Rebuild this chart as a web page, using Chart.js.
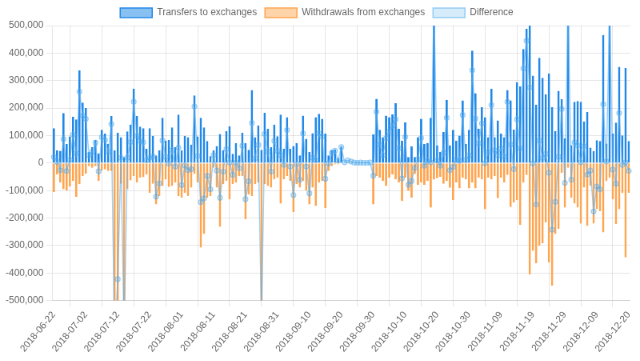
<!DOCTYPE html>
<html>
<head>
<meta charset="utf-8">
<script src="https://cdn.jsdelivr.net/npm/chart.js@4/dist/chart.umd.min.js"></script>
<style>
  html, body { margin: 0; padding: 0; background: #fff; overflow: hidden; }
  #wrap { position: absolute; left: 0; top: 0; width: 800px; height: 451px; transform: scale(0.8); transform-origin: 0 0; }
</style>
</head>
<body>
<div id="wrap"><canvas id="c"></canvas></div>
<script>
const dates = [
  '2018-06-22','2018-06-23','2018-06-24','2018-06-25','2018-06-26','2018-06-27','2018-06-28','2018-06-29','2018-06-30',
  '2018-07-01','2018-07-02','2018-07-03','2018-07-04','2018-07-05','2018-07-06','2018-07-07','2018-07-08','2018-07-09','2018-07-10',
  '2018-07-11','2018-07-12','2018-07-13','2018-07-14','2018-07-15','2018-07-16','2018-07-17','2018-07-18','2018-07-19','2018-07-20',
  '2018-07-21','2018-07-22','2018-07-23','2018-07-24','2018-07-25','2018-07-26','2018-07-27','2018-07-28','2018-07-29','2018-07-30','2018-07-31',
  '2018-08-01','2018-08-02','2018-08-03','2018-08-04','2018-08-05','2018-08-06','2018-08-07','2018-08-08','2018-08-09','2018-08-10',
  '2018-08-11','2018-08-12','2018-08-13','2018-08-14','2018-08-15','2018-08-16','2018-08-17','2018-08-18','2018-08-19','2018-08-20',
  '2018-08-21','2018-08-22','2018-08-23','2018-08-24','2018-08-25','2018-08-26','2018-08-27','2018-08-28','2018-08-29','2018-08-30','2018-08-31',
  '2018-09-01','2018-09-02','2018-09-03','2018-09-04','2018-09-05','2018-09-06','2018-09-07','2018-09-08','2018-09-09','2018-09-10',
  '2018-09-11','2018-09-12','2018-09-13','2018-09-14','2018-09-15','2018-09-16','2018-09-17','2018-09-18','2018-09-19','2018-09-20',
  '2018-09-21','2018-09-22','2018-09-23','2018-09-24','2018-09-25','2018-09-26','2018-09-27','2018-09-28','2018-09-29','2018-09-30',
  '2018-10-01','2018-10-02','2018-10-03','2018-10-04','2018-10-05','2018-10-06','2018-10-07','2018-10-08','2018-10-09','2018-10-10',
  '2018-10-11','2018-10-12','2018-10-13','2018-10-14','2018-10-15','2018-10-16','2018-10-17','2018-10-18','2018-10-19','2018-10-20',
  '2018-10-21','2018-10-22','2018-10-23','2018-10-24','2018-10-25','2018-10-26','2018-10-27','2018-10-28','2018-10-29','2018-10-30','2018-10-31',
  '2018-11-01','2018-11-02','2018-11-03','2018-11-04','2018-11-05','2018-11-06','2018-11-07','2018-11-08','2018-11-09','2018-11-10',
  '2018-11-11','2018-11-12','2018-11-13','2018-11-14','2018-11-15','2018-11-16','2018-11-17','2018-11-18','2018-11-19','2018-11-20',
  '2018-11-21','2018-11-22','2018-11-23','2018-11-24','2018-11-25','2018-11-26','2018-11-27','2018-11-28','2018-11-29','2018-11-30',
  '2018-12-01','2018-12-02','2018-12-03','2018-12-04','2018-12-05','2018-12-06','2018-12-07','2018-12-08','2018-12-09','2018-12-10',
  '2018-12-11','2018-12-12','2018-12-13','2018-12-14','2018-12-16','2018-12-17','2018-12-18','2018-12-19','2018-12-20'
];

const transfersToExchanges = [
  127000, 46000, 45000, 182000, 70000, 97000, 168000, 159000, 337000, 220000,
  200000, 40000, 58000, 85000, 35000, 121000, 107000, 70000, 171000, 46000,
  110000, 94000, 22000, 115000, 140000, 270000, 171000, 133000, 127000, 52000,
  127000, 99000, 28000, 46000, 165000, 82000, 85000, 130000, 58000, 176000,
  46000, 99000, 94000, 67000, 246000, 97000, 165000, 130000, 80000, 25000,
  46000, 62000, 106000, 46000, 116000, 134000, 34000, 73000, 28000, 110000,
  73000, 48000, 266000, 94000, 137000, 48000, 183000, 125000, 58000, 140000,
  98000, 176000, 52000, 167000, 52000, 62000, 73000, 28000, 173000, 88000,
  40000, 109000, 167000, 179000, 161000, 107000, 28000, 48000, 50000, 15000,
  60000, null, null, null, null, null, null, null, null, null,
  104000, 234000, 121000, 94000, 173000, 167000, 177000, 218000, 125000, 82000,
  148000, 22000, 61000, 22000, 94000, 161000, 70000, 73000, 165000, 620000,
  64000, 40000, 113000, 230000, 64000, 121000, 82000, 100000, 228000, 70000,
  121000, 409000, 254000, 125000, 203000, 167000, 94000, 270000, 94000, 155000,
  107000, 94000, 266000, 228000, 122000, 294000, 279000, 415000, 488000, 680000,
  318000, 213000, 383000, 310000, 250000, 326000, 204000, 117000, 263000, 232000,
  90000, 600000, 66000, 223000, 226000, 223000, 151000, 186000, 56000, 44000,
  83000, 80000, 466000, 71000, 600000, 108000, 147000, 350000, 101000, 346000, 80000
];

const withdrawalsFromExchanges = [
  -105000, -41000, -71000, -95000, -99000, -85000, -65000, -123000, -77000, -47000,
  -39000, -11000, -17000, -11000, -65000, -27000, -23000, -29000, -29000, -700000,
  -532000, -75000, -650000, -95000, -63000, -47000, -71000, -53000, -51000, -41000,
  -108000, -75000, -150000, -120000, -83000, -59000, -87000, -83000, -71000, -120000,
  -126000, -108000, -120000, -89000, -40000, -71000, -307000, -258000, -126000, -120000,
  -17000, -89000, -232000, -77000, -65000, -132000, -77000, -71000, -47000, -47000,
  -204000, -114000, -120000, -77000, -71000, -620000, -77000, -83000, -89000, -59000,
  -53000, -147000, -59000, -47000, -65000, -178000, -77000, -89000, -65000, -101000,
  -150000, -89000, -156000, -71000, -65000, -164000, -29000, -11000, -5000, -5000,
  -2000, null, null, null, null, null, null, null, null, null,
  -150000, -47000, -53000, -65000, -83000, -53000, -41000, -59000, -71000, -138000,
  -53000, -101000, -126000, -40000, -80000, -70000, -80000, -65000, -162000, -60000,
  -55000, -50000, -75000, -65000, -90000, -135000, -70000, -92000, -53000, -59000,
  -92000, -71000, -92000, -53000, -59000, -168000, -53000, -59000, -47000, -128000,
  -53000, -71000, -43000, -160000, -144000, -135000, -225000, -71000, -43000, -405000,
  -319000, -364000, -301000, -292000, -216000, -361000, -446000, -258000, -240000, -35000,
  -162000, -17000, -126000, -147000, -162000, -220000, -89000, -228000, -83000, -220000,
  -168000, -175000, -252000, -65000, -53000, -132000, -222000, -168000, -108000, -343000, -108000
];

const difference = [
  22000, 5000, -26000, 87000, -29000, 12000, 103000, 36000, 260000, 173000,
  161000, 29000, 41000, 74000, -30000, 94000, 84000, 41000, 142000, -654000,
  -422000, 19000, -628000, 20000, 77000, 223000, 100000, 80000, 76000, 11000,
  19000, 24000, -122000, -74000, 82000, 23000, -2000, 47000, -13000, 56000,
  -80000, -9000, -26000, -22000, 206000, 26000, -142000, -128000, -46000, -95000,
  29000, -27000, -126000, -31000, 51000, 2000, -43000, 2000, -19000, 63000,
  -131000, -66000, 146000, 17000, 66000, -572000, 106000, 42000, -31000, 81000,
  45000, 29000, -7000, 120000, -13000, -116000, -4000, -61000, 108000, -13000,
  -110000, 20000, 11000, 108000, 96000, -57000, -1000, 37000, 45000, 10000,
  58000, 3000, 10000, 6000, 2000, 1000, 2000, 1000, 1000, 2000,
  -46000, 187000, 68000, 29000, 90000, 114000, 136000, 159000, 54000, -56000,
  95000, -79000, -65000, -18000, 14000, 91000, -10000, 8000, 3000, 560000,
  9000, -10000, 38000, 165000, -26000, -14000, 12000, 8000, 175000, 11000,
  29000, 338000, 162000, 72000, 144000, -1000, 41000, 211000, 47000, 27000,
  54000, 23000, 223000, 68000, -22000, 159000, 54000, 344000, 445000, 275000,
  -1000, -151000, 82000, 18000, 34000, -35000, -242000, -141000, 23000, 197000,
  -72000, 583000, -60000, 76000, 64000, 3000, 62000, -42000, -27000, -176000,
  -85000, -95000, 214000, 6000, 547000, -24000, -75000, 182000, -7000, 3000, -28000
];

const yTicks = { min: -500000, max: 500000, step: 100000 };
const labelEvery = 10;

Chart.defaults.font.family = "'Liberation Sans', Arial, Helvetica, sans-serif";
Chart.defaults.font.size = 12;
Chart.defaults.color = '#666';

// The legend row is centred with a trailing gap, as in the reference
const legendShift = {
  id: 'legendShift',
  afterLayout(chart) {
    const lg = chart.legend;
    if (lg) { lg.left -= 6; lg.right -= 6; }
  }
};

new Chart(document.getElementById('c'), {
  type: 'bar',
  plugins: [legendShift],
  data: {
    labels: dates,
    datasets: [
      {
        label: 'Transfers to exchanges',
        data: transfersToExchanges,
        backgroundColor: 'rgba(40,140,232,0.55)',
        borderColor: 'rgb(34,136,232)',
        borderWidth: 1.5,
        order: 1
      },
      {
        label: 'Withdrawals from exchanges',
        data: withdrawalsFromExchanges,
        backgroundColor: 'rgba(255,159,64,0.45)',
        borderColor: 'rgb(255,165,80)',
        borderWidth: 1.5,
        order: 2
      },
      {
        type: 'line',
        label: 'Difference',
        data: difference,
        backgroundColor: 'rgba(54,162,235,0.2)',
        borderColor: 'rgba(90,175,240,0.6)',
        borderWidth: 1.5,
        pointRadius: 3,
        pointBorderWidth: 1.2,
        tension: 0,
        fill: false,
        order: 0
      }
    ]
  },
  options: {
    responsive: true,
    maintainAspectRatio: false,
    animation: false,
    layout: { padding: { left: 4, bottom: 5, right: 0 } },
    plugins: {
      legend: {
        position: 'top',
        labels: {
          boxWidth: 40,
          color: '#666',
          sort: (a, b) => a.datasetIndex - b.datasetIndex
        }
      },
      tooltip: { enabled: false }
    },
    scales: {
      x: {
        stacked: true,
        ticks: {
          autoSkip: false,
          maxRotation: 50,
          minRotation: 50,
          color: '#666',
          callback: function (val, idx) {
            return idx % labelEvery === 0 ? this.getLabelForValue(val) : null;
          }
        },
        grid: { color: 'rgba(0,0,0,0.1)' }
      },
      y: {
        min: yTicks.min,
        max: yTicks.max,
        ticks: { stepSize: yTicks.step, color: '#666' },
        grid: { color: 'rgba(0,0,0,0.1)' }
      }
    }
  }
});
</script>
</body>
</html>
